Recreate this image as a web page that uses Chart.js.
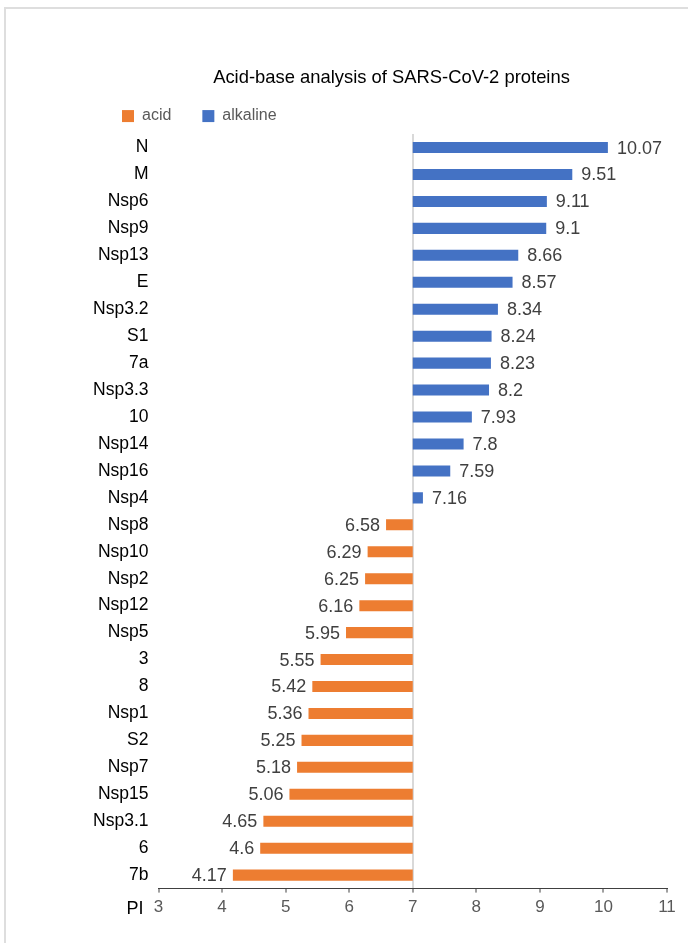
<!DOCTYPE html>
<html>
<head>
<meta charset="utf-8">
<script src="https://cdn.jsdelivr.net/npm/chart.js@4/dist/chart.umd.min.js"></script>
<style>
  html, body { margin: 0; padding: 0; background: #fff; }
  #frame {
    position: absolute; left: 4px; top: 7px; width: 720px; height: 1000px;
    border: 2px solid #dedede; box-sizing: border-box;
  }
  #wrap { position: absolute; left: 0; top: 0; width: 688px; height: 943px; }
</style>
</head>
<body>
<div id="frame"></div>
<div id="wrap"><canvas id="chart" width="688" height="943"></canvas></div>
<script>
// Säure-Base-Analyse – PI-Werte der SARS-CoV-2-Proteine
const proteins = ['N', 'M', 'Nsp6', 'Nsp9', 'Nsp13', 'E', 'Nsp3.2', 'S1', '7a', 'Nsp3.3',
  '10', 'Nsp14', 'Nsp16', 'Nsp4', 'Nsp8', 'Nsp10', 'Nsp2', 'Nsp12', 'Nsp5', '3',
  '8', 'Nsp1', 'S2', 'Nsp7', 'Nsp15', 'Nsp3.1', '6', '7b'];
const piValues = [10.07, 9.51, 9.11, 9.1, 8.66, 8.57, 8.34, 8.24, 8.23, 8.2,
  7.93, 7.8, 7.59, 7.16, 6.58, 6.29, 6.25, 6.16, 5.95, 5.55,
  5.42, 5.36, 5.25, 5.18, 5.06, 4.65, 4.6, 4.17];
const neutral = 7;
const xTicks = [3, 4, 5, 6, 7, 8, 9, 10, 11];

const FONT = '"Liberation Sans", Arial, sans-serif';

// Balken schweben zwischen 7 und dem Wert
const acidData = piValues.map(v => v < neutral ? [v, neutral] : null);
const alkalineData = piValues.map(v => v >= neutral ? [neutral, v] : null);

// Legende und Titel wie im Original verschieben (Legende mit grossem Abstand,
// Box oben erweitert, damit der Clip die Einträge nicht abschneidet)
const shiftBlocks = {
  id: 'shiftBlocks',
  afterLayout(chart) {
    const lg = chart.legend;
    if (lg) { lg.left += 7; lg.right += 7; lg.top -= 21; }
    if (chart.titleBlock) { chart.titleBlock.left += 16; chart.titleBlock.right += 16; }
  },
};

const valueLabels = {
  id: 'valueLabels',
  afterDatasetsDraw(chart) {
    const { ctx } = chart;
    ctx.save();
    ctx.font = '18px ' + FONT;
    ctx.fillStyle = '#404040';
    ctx.textBaseline = 'middle';
    chart.data.datasets.forEach((ds, di) => {
      const meta = chart.getDatasetMeta(di);
      meta.data.forEach((bar, i) => {
        if (!ds.data[i]) return;
        const v = piValues[i];
        const px = chart.scales.x.getPixelForValue(v);
        if (v >= neutral) {
          ctx.textAlign = 'left';
          ctx.fillText(String(v), px + 9, bar.y + 1);
        } else {
          ctx.textAlign = 'right';
          ctx.fillText(String(v), px - 6, bar.y + 1);
        }
      });
    });
    // Achsenbeschriftung "PI" links unten
    const a = chart.chartArea;
    ctx.fillStyle = '#000';
    ctx.textAlign = 'right';
    ctx.font = '18px ' + FONT;
    ctx.fillText('PI', a.left - 15, a.bottom + 20);
    ctx.restore();
  },
};

new Chart(document.getElementById('chart'), {
  type: 'bar',
  data: {
    labels: proteins,
    datasets: [
      {
        label: 'acid',
        data: acidData,
        backgroundColor: '#ED7D31',
        grouped: false,
        barPercentage: 0.41,
        categoryPercentage: 1,
      },
      {
        label: 'alkaline',
        data: alkalineData,
        backgroundColor: '#4472C4',
        grouped: false,
        barPercentage: 0.41,
        categoryPercentage: 1,
      },
    ],
  },
  options: {
    indexAxis: 'y',
    responsive: false,
    animation: false,
    layout: { padding: { top: 67, left: 84, right: 21, bottom: 20 } },
    plugins: {
      title: {
        display: true,
        text: 'Acid-base analysis of SARS-CoV-2 proteins',
        color: '#000',
        font: { family: FONT, size: 18.4, weight: 'normal' },
        padding: { top: 0, bottom: 9 },
      },
      legend: {
        display: true,
        align: 'start',
        maxHeight: 36,
        labels: {
          color: '#595959',
          font: { family: FONT, size: 16 },
          boxWidth: 12,
          boxHeight: 12,
          padding: 31,
        },
      },
      tooltip: { enabled: false },
    },
    scales: {
      x: {
        min: 3,
        max: 11,
        afterBuildTicks: axis => { axis.ticks = xTicks.map(v => ({ value: v })); },
        border: { display: true, color: '#404040', width: 1 },
        grid: {
          color: c => c.tick && c.tick.value === neutral ? '#d9d9d9' : 'transparent',
          lineWidth: 2,
          tickColor: '#404040',
          tickLength: 4,
          tickWidth: 1,
        },
        ticks: { color: '#595959', font: { family: FONT, size: 17 }, padding: 5 },
      },
      y: {
        afterFit: axis => { axis.width = 74.5; },
        border: { display: false },
        grid: { display: false },
        ticks: { color: '#000', font: { family: FONT, size: 17.5 }, padding: 2, autoSkip: false },
      },
    },
  },
  plugins: [shiftBlocks, valueLabels],
});
</script>
</body>
</html>
